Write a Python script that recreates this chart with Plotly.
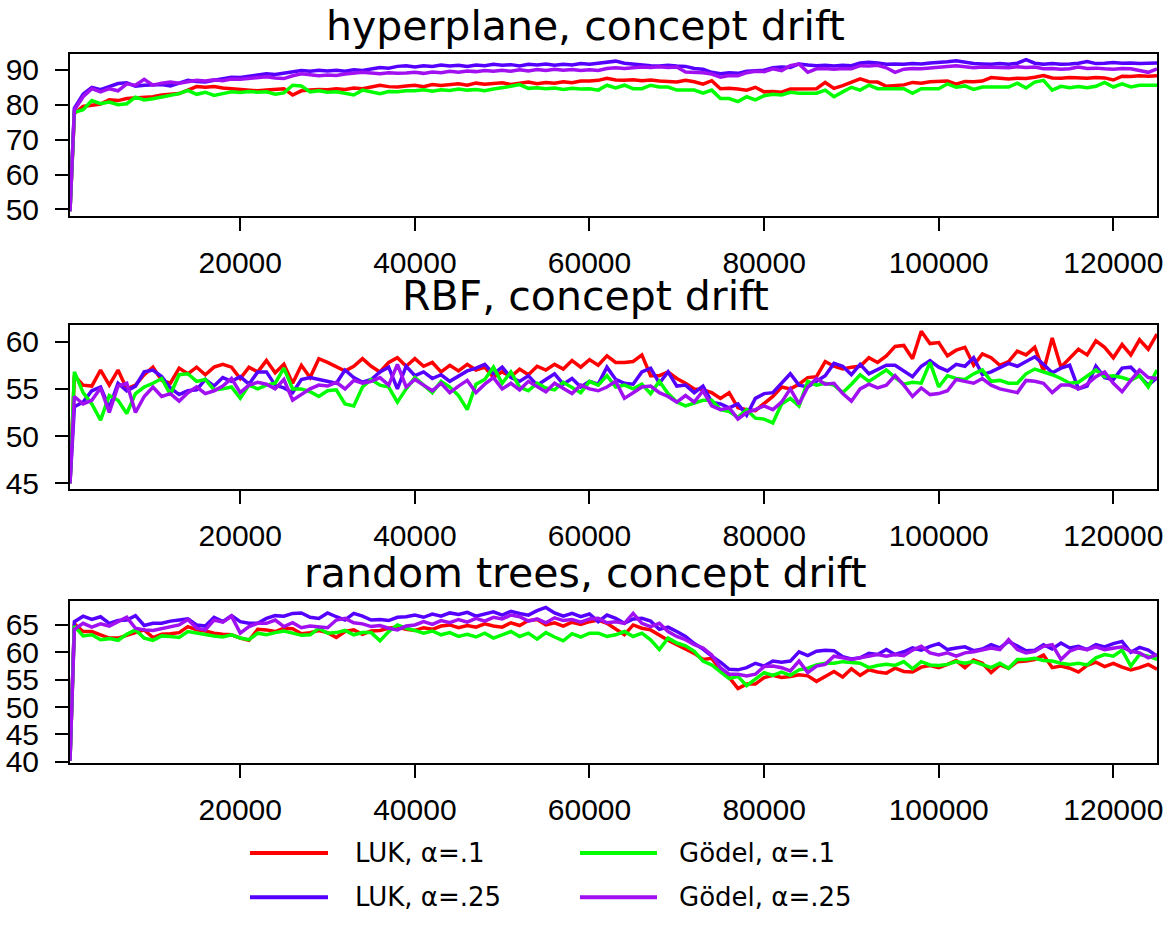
import plotly.graph_objects as go

# ---------------- data ----------------
instances = [500] + list(range(1000, 125001, 1000))

series_names = ["LUK, α=.1", "LUK, α=.25", "Gödel, α=.1", "Gödel, α=.25"]
series_colors = ["#FF0000", "#5500FF", "#00FF00", "#A010F0"]
panel_titles = ["hyperplane, concept drift", "RBF, concept drift", "random trees, concept drift"]

hyp_luk_10 = [
    49.5, 77.5, 79.5, 79.8, 80.2, 81.4, 81.2, 81.8, 82.0, 82.3,
    82.3, 82.8, 83.0, 83.2, 84.2, 85.2, 85.0, 85.2, 84.8, 84.6,
    84.2, 84.2, 84.0, 84.2, 84.3, 84.6, 82.8, 84.0, 84.2, 84.4,
    84.3, 84.6, 84.4, 84.8, 84.6, 85.0, 85.6, 85.2, 85.1, 85.4,
    85.6, 85.2, 85.8, 85.5, 85.8, 86.0, 85.6, 86.2, 85.9, 86.0,
    86.3, 85.8, 86.2, 86.5, 86.0, 86.4, 86.2, 86.6, 86.3, 86.8,
    86.8, 87.0, 87.6, 87.1, 87.0, 87.2, 86.9, 87.1, 86.8, 86.6,
    86.5, 87.0, 86.6, 85.9, 86.9, 84.6, 84.7, 84.5, 84.2, 85.0,
    83.7, 83.8, 83.6, 84.5, 84.6, 84.5, 84.6, 86.4, 84.7, 85.5,
    86.4, 87.4, 86.6, 86.5, 85.3, 85.4, 85.7, 86.4, 86.2, 86.6,
    86.7, 86.8, 85.9, 86.7, 86.6, 86.8, 87.8, 87.5, 87.4, 87.6,
    87.5, 87.9, 88.4, 87.7, 87.6, 87.8, 87.7, 87.6, 87.8, 87.7,
    87.1, 88.2, 88.1, 88.3, 88.2, 88.3]
hyp_luk_25 = [
    49.5, 79.0, 83.0, 85.0, 84.3, 85.1, 86.1, 86.3, 85.3, 85.6,
    85.6, 85.8, 85.4, 86.2, 87.0, 86.7, 86.5, 87.0, 87.4, 87.9,
    87.8, 88.2, 88.5, 88.9, 88.7, 89.1, 89.4, 89.8, 89.6, 89.9,
    89.7, 89.9, 89.6, 90.0, 89.8, 90.3, 90.7, 90.5, 91.0, 91.2,
    90.8, 91.2, 91.0, 91.4, 91.1, 91.3, 91.0, 91.4, 91.2, 91.6,
    91.3, 91.5, 91.1, 91.6, 91.4, 91.7, 91.3, 91.6, 91.4, 91.8,
    91.6, 91.9, 92.1, 92.5, 91.9, 91.6, 91.3, 91.2, 91.1, 91.3,
    91.1, 91.0, 90.4, 90.2, 89.3, 88.9, 89.2, 89.0, 89.6, 89.8,
    89.9, 90.6, 90.8, 90.7, 91.7, 91.4, 91.2, 91.3, 91.1, 91.3,
    91.2, 92.0, 92.2, 92.0, 91.6, 91.7, 91.6, 91.8, 91.7, 92.0,
    92.1, 92.3, 92.6, 92.1, 91.8, 91.7, 91.6, 91.8, 91.6, 91.9,
    92.9, 91.9, 91.6, 91.8, 91.6, 91.7, 91.9, 92.4, 91.8, 91.9,
    92.1, 91.9, 92.0, 91.8, 91.9, 92.0]
hyp_godel_10 = [
    49.5, 77.8, 78.6, 81.2, 80.3, 80.8, 80.0, 80.3, 82.2, 81.4,
    81.7, 82.2, 82.6, 83.2, 84.1, 83.0, 83.6, 82.7, 83.2, 83.7,
    83.5, 83.8, 83.6, 83.7, 83.0, 83.4, 85.6, 85.4, 83.7, 84.0,
    83.6, 83.7, 83.3, 82.8, 84.2, 83.6, 83.2, 83.8, 83.7, 84.0,
    84.0, 84.3, 83.9, 84.3, 84.1, 84.5, 84.2, 84.4, 84.0, 84.5,
    84.8, 85.3, 85.8, 84.7, 84.9, 84.6, 84.8, 84.4, 84.7, 84.5,
    84.6, 84.2, 85.6, 84.8, 85.6, 84.6, 84.6, 85.6, 85.1, 85.1,
    84.2, 84.2, 84.2, 83.3, 84.2, 81.8, 81.8, 80.9, 82.3, 81.4,
    82.6, 83.0, 82.8, 83.6, 83.3, 83.3, 83.3, 84.2, 82.3, 83.7,
    85.0, 84.2, 85.6, 84.6, 84.6, 84.6, 84.6, 83.3, 84.6, 84.6,
    84.6, 86.0, 85.0, 85.4, 84.4, 85.1, 85.1, 85.1, 85.1, 86.2,
    84.8, 86.5, 87.0, 84.2, 85.3, 84.9, 85.2, 84.9, 85.3, 86.4,
    85.1, 86.0, 85.1, 85.6, 85.6, 85.6]
hyp_godel_25 = [
    49.5, 78.5, 82.3, 84.6, 83.7, 84.6, 84.0, 86.0, 85.6, 87.3,
    85.6, 86.2, 86.5, 86.2, 86.6, 87.0, 86.8, 87.2, 86.9, 87.4,
    87.3, 87.6, 87.8, 88.0, 87.7, 87.5, 88.3, 88.9, 88.6, 88.3,
    88.5, 88.4, 88.8, 89.0, 89.3, 89.1, 88.9, 89.2, 89.0, 89.1,
    89.3, 89.0, 89.4, 89.2, 89.6, 89.3, 89.7, 89.5, 89.8, 89.6,
    89.9, 89.6, 90.0, 89.7, 90.1, 89.8, 90.2, 89.9, 90.1, 89.8,
    90.0, 89.8, 90.4, 90.6, 90.4, 90.6, 90.8, 90.7, 90.9, 90.7,
    90.8, 89.4, 89.3, 89.2, 88.8, 87.9, 88.4, 88.3, 89.2, 89.6,
    89.5, 90.3, 89.8, 91.2, 91.7, 89.3, 90.3, 90.4, 90.2, 90.4,
    90.3, 91.2, 91.1, 91.3, 90.6, 89.3, 90.2, 90.4, 90.3, 90.5,
    90.7, 91.0, 91.2, 90.9, 90.6, 90.8, 90.7, 90.8, 90.6, 90.9,
    90.7, 90.8, 90.3, 90.4, 90.2, 90.3, 90.8, 90.4, 90.5, 90.3,
    90.2, 90.4, 90.3, 89.8, 89.3, 90.3]

rbf_luk_10 = [
    45.0, 56.4, 55.4, 55.3, 57.0, 55.4, 57.0, 55.0, 55.4, 56.5,
    57.3, 55.9, 55.6, 57.2, 56.6, 57.3, 56.5, 57.3, 57.6, 57.3,
    56.1, 57.3, 56.8, 58.0, 56.7, 57.6, 55.6, 57.5, 56.2, 58.2,
    57.8, 57.4, 56.9, 57.4, 58.2, 57.4, 56.8, 57.8, 58.3, 57.4,
    58.2, 57.4, 57.8, 56.8, 57.5, 56.9, 57.6, 57.0, 57.3, 56.2,
    56.8, 56.3, 57.1, 56.5, 57.4, 57.0, 57.6, 57.1, 58.0, 57.3,
    58.1, 57.5, 58.5, 57.8, 57.8, 57.9, 58.6, 56.4, 56.4, 56.8,
    56.1, 55.6, 55.0, 54.9, 54.6, 54.0, 54.6, 53.0, 52.8, 52.7,
    53.4, 54.2, 55.2, 55.0, 55.5, 56.2, 56.3, 57.9, 57.4, 57.1,
    57.3, 57.4, 58.3, 57.8, 58.5, 59.5, 59.6, 58.2, 61.1, 59.8,
    59.9, 58.5, 59.1, 59.4, 57.5, 58.7, 58.3, 57.5, 57.9, 59.0,
    58.6, 59.4, 56.9, 60.4, 57.3, 58.3, 59.2, 58.6, 60.1, 59.4,
    58.3, 59.7, 58.6, 60.2, 59.2, 60.8]
rbf_luk_25 = [
    45.0, 53.1, 53.6, 54.8, 55.2, 53.0, 55.6, 54.8, 55.3, 56.8,
    57.0, 56.3, 55.1, 54.4, 54.8, 54.9, 56.0, 55.3, 56.2, 55.8,
    56.3, 55.5, 56.8, 56.8, 55.4, 55.1, 54.6, 56.0, 56.2, 56.0,
    55.8, 55.6, 57.0, 56.2, 55.7, 56.0, 56.8, 57.3, 55.0, 57.4,
    56.4, 56.8, 56.1, 56.5, 55.8, 56.4, 56.9, 57.2, 57.6, 56.6,
    57.3, 56.2, 55.8, 56.4, 55.4, 56.0, 56.6, 55.5, 56.1, 55.2,
    55.8, 55.5, 57.3, 56.0, 55.6, 55.5, 56.8, 57.2, 55.6, 56.8,
    55.3, 55.4, 54.6, 55.3, 53.6, 53.4, 53.0, 53.4, 52.2, 54.0,
    54.5, 54.6, 55.6, 56.6, 55.4, 55.2, 55.8, 56.4, 57.7, 57.4,
    56.5, 57.6, 56.6, 57.0, 57.5, 57.5, 56.9, 56.3, 57.4, 58.0,
    57.3, 56.9, 57.6, 57.4, 58.3, 56.5, 56.8, 57.2, 57.7, 57.4,
    57.9, 58.4, 57.6, 56.7, 57.2, 57.5, 55.0, 55.3, 57.4, 56.2,
    56.0, 57.2, 57.3, 56.4, 55.4, 56.2]
rbf_godel_10 = [
    45.0, 56.8, 54.6, 53.4, 51.7, 54.3, 53.8, 52.4, 54.5, 55.2,
    55.6, 56.1, 54.4, 56.5, 56.6, 55.8, 56.0, 54.9, 55.0, 55.2,
    54.0, 55.4, 55.0, 55.4, 55.6, 57.2, 55.0, 55.0, 54.7, 54.2,
    54.8, 54.9, 53.4, 53.2, 55.2, 56.0, 55.4, 55.2, 53.6, 55.0,
    56.2, 55.4, 54.6, 55.8, 55.2, 54.3, 52.8, 55.5, 56.0, 57.3,
    55.6, 56.8, 55.2, 54.8, 55.6, 55.1, 54.9, 55.7, 55.2, 54.6,
    55.8, 55.4, 56.4, 55.2, 55.4, 55.0, 55.5, 54.5, 55.8, 54.5,
    53.6, 53.2, 53.5, 53.8, 53.8, 52.8, 52.6, 52.0, 52.8, 51.9,
    51.8, 51.4, 53.4, 54.0, 53.2, 55.8, 55.4, 55.6, 55.4, 54.6,
    55.5, 56.5, 55.8, 56.4, 57.0, 56.2, 55.5, 55.7, 55.6, 57.8,
    55.2, 56.4, 56.1, 56.0, 56.6, 57.0, 55.8, 55.9, 55.6, 55.6,
    56.6, 57.1, 56.8, 56.5, 56.1, 55.6, 55.7, 56.3, 57.0, 56.3,
    56.4, 56.2, 55.9, 56.4, 55.2, 57.0]
rbf_godel_25 = [
    45.0, 54.2, 53.4, 53.8, 55.1, 52.5, 55.3, 55.6, 52.5, 54.2,
    55.2, 54.2, 54.5, 53.7, 54.6, 55.2, 54.5, 54.8, 55.3, 56.1,
    54.6, 55.4, 55.7, 55.5, 55.0, 56.0, 53.8, 54.4, 55.0, 55.4,
    55.3, 55.7, 55.0, 55.9, 55.6, 55.8, 56.2, 55.4, 57.6, 55.2,
    56.0, 55.4, 54.8, 55.6, 54.6, 55.3, 55.9, 54.6, 55.5, 56.2,
    55.0, 55.6, 54.9, 55.8, 55.2, 54.7, 55.6, 55.1, 54.5, 55.4,
    55.0, 54.8, 55.2, 55.8, 54.0, 54.6, 55.2, 55.3, 54.6, 54.2,
    53.6, 54.3, 53.6, 54.8, 53.2, 52.8, 53.0, 51.8, 52.5, 52.8,
    53.2, 52.8, 53.6, 55.0, 53.4, 55.2, 56.1, 55.5, 55.6, 54.5,
    53.7, 55.0, 55.5, 55.1, 55.4, 56.4, 55.4, 54.2, 55.1, 54.4,
    54.5, 54.8, 56.0, 55.8, 55.6, 56.1, 55.4, 55.0, 54.8, 54.6,
    55.9, 55.8, 55.6, 54.6, 55.4, 55.4, 55.0, 55.5, 56.3, 56.8,
    55.6, 54.7, 55.9, 57.0, 56.2, 56.1]

rt_luk_10 = [
    40.2, 65.2, 63.8, 63.8, 63.2, 62.6, 62.6, 63.1, 63.7, 64.1,
    62.7, 63.3, 63.4, 63.6, 64.7, 64.1, 63.9, 63.5, 63.3, 63.2,
    62.6, 62.2, 64.2, 64.1, 63.8, 64.4, 64.3, 63.4, 63.6, 64.0,
    63.6, 62.7, 63.8, 64.1, 63.3, 63.9, 64.0, 64.4, 64.6, 64.2,
    64.0, 64.5, 64.2, 64.8, 65.0, 64.5, 64.9, 64.6, 65.2, 64.8,
    64.6, 65.4, 64.9, 65.8, 66.0, 65.0, 65.4, 64.8, 65.5, 65.1,
    65.6, 65.9, 65.3, 64.3, 63.2, 65.0, 64.4, 64.1, 63.1, 62.2,
    61.4, 60.6, 59.8, 58.7, 58.9, 56.8, 55.4, 53.4, 54.2, 54.2,
    55.4, 55.8, 55.4, 55.6, 55.9, 55.7, 54.7, 55.6, 56.5, 55.5,
    57.0, 55.8, 56.8, 56.4, 56.2, 57.1, 56.5, 56.4, 57.3, 57.6,
    57.2, 57.8, 58.5, 57.2, 58.6, 58.0, 56.3, 57.7, 57.1, 58.3,
    58.4, 58.7, 59.5, 57.2, 57.5, 57.1, 56.4, 57.6, 58.2, 57.4,
    58.0, 57.3, 56.8, 57.2, 57.8, 56.9]
rt_luk_25 = [
    40.2, 65.6, 66.6, 66.0, 66.5, 65.3, 65.8, 65.9, 66.7, 64.9,
    65.3, 65.3, 65.7, 65.9, 66.1, 65.0, 64.8, 66.4, 65.6, 66.7,
    65.6, 65.3, 65.3, 66.2, 66.7, 66.6, 67.1, 67.2, 66.4, 66.2,
    67.2, 66.5, 65.9, 67.1, 66.6, 65.9, 66.0, 65.8, 66.4, 66.5,
    66.8, 66.4, 67.0, 66.6, 67.2, 66.9, 67.3, 66.6, 67.0, 67.4,
    66.8, 67.5, 67.1, 66.8, 67.6, 68.2, 67.2, 66.6, 67.1, 66.5,
    67.0, 65.6, 66.8, 66.2, 65.3, 66.1, 66.2, 65.7, 64.2, 64.6,
    63.8, 62.9, 61.6, 60.6, 59.3, 58.2, 56.9, 56.8, 57.2, 58.0,
    57.5, 58.4, 58.2, 58.4, 60.1, 59.4, 60.2, 60.4, 60.3, 59.2,
    58.8, 59.0, 59.8, 59.6, 60.5, 59.6, 60.1, 60.8, 60.4, 61.1,
    61.6, 60.5, 60.8, 61.0, 60.3, 60.6, 61.4, 60.8, 62.0, 61.1,
    60.3, 60.4, 61.4, 60.6, 61.7, 60.8, 61.1, 60.5, 61.4, 61.0,
    61.6, 62.0, 60.0, 60.9, 60.4, 59.3]
rt_godel_10 = [
    40.2, 64.8, 63.0, 63.2, 62.3, 62.5, 62.2, 63.3, 64.1, 62.6,
    62.2, 63.0, 62.9, 62.7, 63.8, 63.5, 63.3, 63.0, 62.8, 63.2,
    62.6, 62.3, 63.5, 63.2, 63.6, 63.9, 63.5, 63.1, 63.2, 64.4,
    63.5, 63.6, 64.0, 63.2, 63.6, 63.6, 62.1, 63.8, 65.0, 64.4,
    64.0, 63.5, 63.9, 63.2, 63.6, 62.9, 63.3, 62.8, 63.5, 62.6,
    63.2, 63.8, 62.9, 63.5, 62.4, 63.6, 62.8, 62.1, 63.4, 62.8,
    63.5, 63.5, 62.9, 63.2, 63.8, 62.9, 63.5, 62.3, 60.5, 62.6,
    61.7, 61.2, 60.2, 58.4, 57.7, 56.4, 55.2, 55.6, 53.9, 55.1,
    56.3, 55.8, 56.4, 55.8, 56.8, 57.1, 57.7, 58.0, 58.0, 58.3,
    58.1, 58.0, 57.2, 57.6, 57.8, 57.6, 58.3, 57.0, 58.3, 57.7,
    57.6, 57.8, 58.3, 58.0, 58.3, 57.8, 57.2, 58.0, 57.1, 58.7,
    58.7, 58.9, 58.5, 58.4, 58.0, 57.8, 58.0, 57.7, 59.0, 59.6,
    59.3, 60.4, 57.5, 59.6, 59.3, 58.7]
rt_godel_25 = [
    40.2, 64.2, 65.3, 64.6, 65.2, 64.8, 65.6, 66.4, 64.4, 64.1,
    64.0, 64.3, 64.6, 65.0, 66.0, 64.4, 64.1, 65.9, 65.5, 66.6,
    63.5, 64.7, 65.3, 65.3, 65.9, 64.7, 65.4, 64.5, 64.8, 64.6,
    64.5, 65.9, 66.2, 65.4, 65.2, 64.7, 64.9, 64.4, 64.1, 64.8,
    65.0, 65.6, 65.1, 65.8, 65.4, 66.0, 65.5, 66.2, 65.7, 66.4,
    66.1, 66.8, 66.5, 65.7, 66.1, 65.4, 66.3, 65.8, 66.0, 65.5,
    66.1, 66.2, 65.4, 65.6, 65.3, 67.1, 65.3, 64.7, 65.3, 63.8,
    62.9, 62.3, 61.4, 60.8, 59.5, 57.2, 56.0, 56.0, 55.7, 56.0,
    57.4, 57.5, 57.2, 56.6, 58.4, 56.3, 57.5, 57.8, 59.3, 59.0,
    58.7, 59.0, 59.3, 59.6, 59.3, 59.6, 59.4, 60.4, 61.1, 59.9,
    59.5, 59.9, 59.3, 59.9, 60.1, 60.5, 60.8, 60.5, 62.3, 60.5,
    59.9, 60.2, 61.1, 61.4, 58.7, 60.2, 60.8, 60.5, 61.0, 60.5,
    60.8, 61.0, 60.2, 59.9, 59.0, 59.6]

x_tickvals = [20000, 40000, 60000, 80000, 100000, 120000]
hyp_yticks = [50, 60, 70, 80, 90]
rbf_yticks = [45, 50, 55, 60]
rt_yticks = [40, 45, 50, 55, 60, 65]

panels = [
    (panel_titles[0], [hyp_luk_10, hyp_luk_25, hyp_godel_10, hyp_godel_25], hyp_yticks),
    (panel_titles[1], [rbf_luk_10, rbf_luk_25, rbf_godel_10, rbf_godel_25], rbf_yticks),
    (panel_titles[2], [rt_luk_10, rt_luk_25, rt_godel_10, rt_godel_25], rt_yticks),
]
for _, ser, _ in panels:
    for s in ser:
        assert len(s) == len(instances), len(s)

# ---------------- layout ----------------
W, H = 1171, 931
ML, MR = 70, 14
PW = W - ML - MR


def fx(px):
    return (px - ML) / PW


def fy(py):
    return 1 - py / H


boxes = [(54.7, 220.0), (330.0, 497.0), (610.7, 775.7)]
y_ranges = [[48.0, 94.6], [44.4, 61.8], [39.75, 69.4]]
title_centers = [26, 301, 582]

tick_font = dict(family="Liberation Sans, Arial, sans-serif", size=30, color="black")
text_font = "DejaVu Sans, Verdana, sans-serif"

fig = go.Figure()
layout = dict(
    width=W, height=H,
    margin=dict(l=ML, r=MR, t=0, b=0, pad=0),
    paper_bgcolor="white", plot_bgcolor="white",
    showlegend=False,
    annotations=[], shapes=[],
)

for p, (title, ser, yt) in enumerate(panels):
    sfx = "" if p == 0 else str(p + 1)
    for i, vals in enumerate(ser):
        fig.add_trace(go.Scatter(
            x=instances, y=vals, mode="lines", name=series_names[i],
            line=dict(color=series_colors[i], width=3.5),
            xaxis="x" + sfx, yaxis="y" + sfx, showlegend=False,
        ))
    top, bot = boxes[p]
    common = dict(showline=True, linecolor="black", linewidth=2, mirror=True,
                  ticks="outside", ticklen=13, tickwidth=2, tickcolor="black",
                  showgrid=False, zeroline=False, tickfont=tick_font)
    layout["xaxis" + sfx] = dict(domain=[0, 1], anchor="y" + sfx, range=[500, 125000],
                                 tickmode="array", tickvals=x_tickvals,
                                 ticktext=[str(v) for v in x_tickvals],
                                 ticklabelstandoff=6, **common)
    layout["yaxis" + sfx] = dict(domain=[fy(bot), fy(top)], anchor="x" + sfx,
                                 range=y_ranges[p], tickmode="array", tickvals=yt,
                                 ticktext=[str(v) for v in yt],
                                 ticklabelstandoff=10, **common)
    layout["annotations"].append(dict(
        text=title, xref="paper", yref="paper", x=fx(585.5), y=fy(title_centers[p]),
        xanchor="center", yanchor="middle", showarrow=False,
        font=dict(family=text_font, size=41, color="black")))

# legend (two columns, column-major like the original)
leg_rows = [867, 912]
leg_line_x = [(250, 328), (580, 657)]
leg_text_x = [353, 677]
for i, name in enumerate(series_names):
    col, row = i // 2, i % 2
    y = fy(leg_rows[row])
    layout["shapes"].append(dict(type="line", xref="paper", yref="paper",
                                 x0=fx(leg_line_x[col][0]), x1=fx(leg_line_x[col][1]),
                                 y0=y, y1=y, line=dict(color=series_colors[i], width=4)))
    layout["annotations"].append(dict(
        text=name, xref="paper", yref="paper", x=fx(leg_text_x[col]), y=y,
        xanchor="left", yanchor="middle", showarrow=False,
        font=dict(family=text_font, size=26, color="black")))

fig.update_layout(**layout)
fig.write_html("out.html")
